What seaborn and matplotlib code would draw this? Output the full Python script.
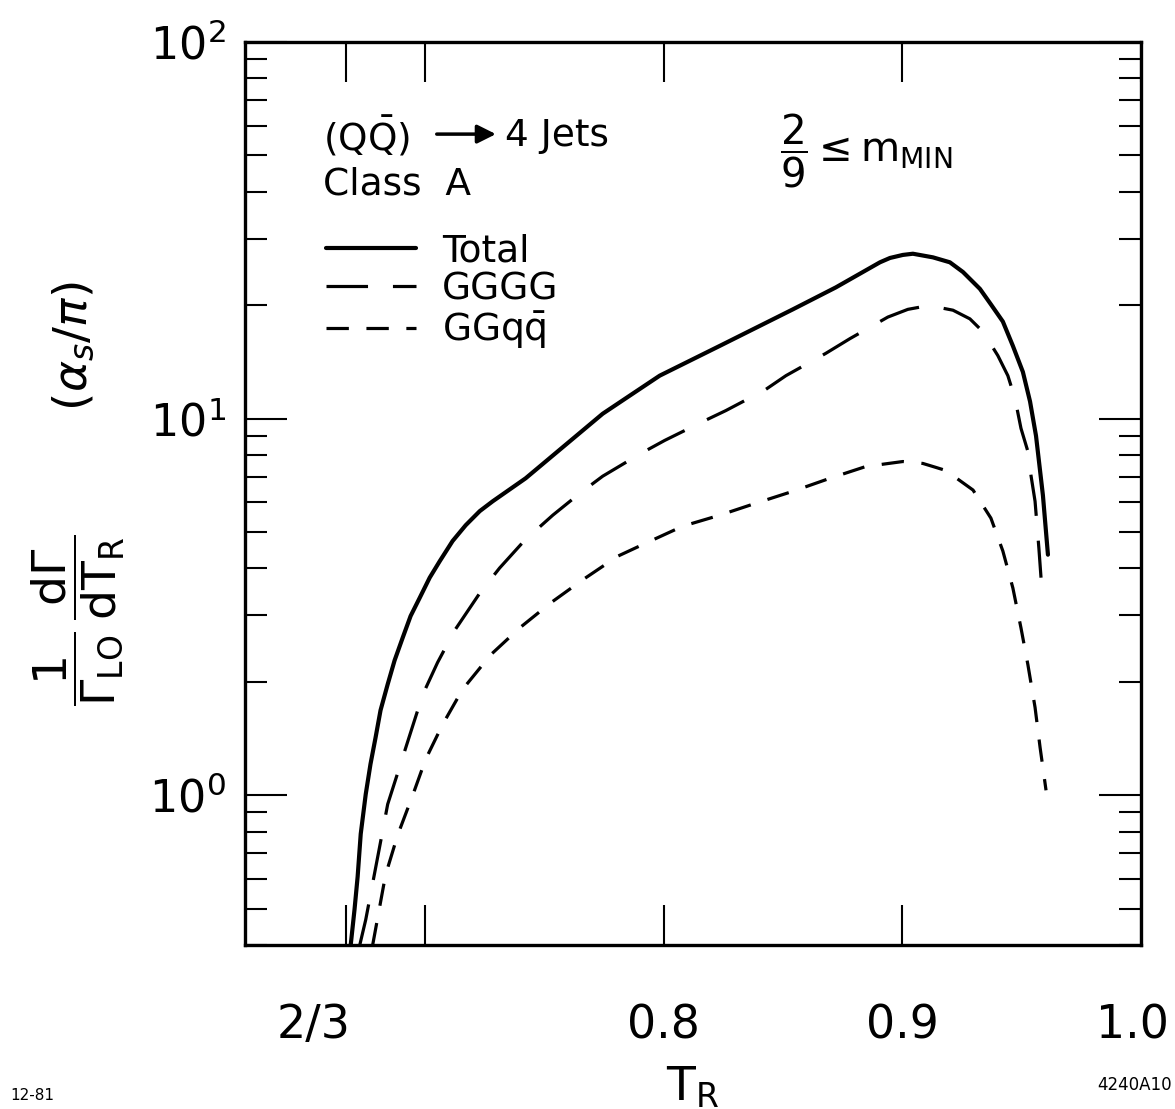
import numpy as np
import pandas as pd
import matplotlib
matplotlib.use("Agg")
import matplotlib.pyplot as plt
import seaborn as sns
from matplotlib.lines import Line2D

# ---- data ----
t_total = [0.6688, 0.6704, 0.6717, 0.6730, 0.6751, 0.6771, 0.6792, 0.6813, 0.6843,
           0.6872, 0.6906, 0.6939, 0.6977, 0.7019, 0.7061, 0.7115, 0.7170, 0.7229,
           0.7283, 0.7421, 0.7744, 0.7857, 0.7983, 0.8235, 0.8541, 0.8721, 0.8906,
           0.8948, 0.9002, 0.9044, 0.9128, 0.9199, 0.9254, 0.9325, 0.9371, 0.9421,
           0.9463, 0.9505, 0.9535, 0.9560, 0.9589, 0.9610]
v_total = [0.40, 0.497, 0.607, 0.789, 1.006, 1.21, 1.42, 1.68, 1.97,
           2.28, 2.62, 2.99, 3.34, 3.78, 4.18, 4.73, 5.21, 5.68,
           6.03, 6.94, 10.3, 11.5, 13.0, 15.6, 19.5, 22.3, 26.0,
           26.7, 27.2, 27.4, 26.8, 26.0, 24.5, 22.1, 20.1, 18.1,
           15.6, 13.3, 11.1, 9.0, 6.25, 4.35]

t_gggg = [0.6726, 0.6751, 0.6809, 0.6843, 0.6897, 0.6935, 0.6990, 0.7052, 0.7124,
          0.7229, 0.7312, 0.7417, 0.7535, 0.7648, 0.7744, 0.7904, 0.8004, 0.8164,
          0.8260, 0.8423, 0.8512, 0.8679, 0.8780, 0.8939, 0.9023, 0.9099, 0.9140,
          0.9212, 0.9283, 0.9338, 0.9400, 0.9442, 0.9472, 0.9497, 0.9526, 0.9539,
          0.9556, 0.9572, 0.9581]
v_gggg = [0.40, 0.467, 0.728, 0.946, 1.21, 1.44, 1.85, 2.25, 2.74,
          3.44, 4.01, 4.75, 5.54, 6.33, 7.03, 8.08, 8.75, 9.82,
          10.5, 11.9, 13.0, 14.9, 16.3, 18.6, 19.5, 19.9, 19.8,
          19.4, 18.4, 17.0, 14.7, 13.0, 11.3, 9.42, 8.18, 7.06,
          6.03, 4.53, 3.78]

t_ggqq = [0.6780, 0.6788, 0.6834, 0.6885, 0.6948, 0.7002, 0.7073, 0.7157, 0.7275,
          0.7396, 0.7526, 0.7660, 0.7807, 0.7925, 0.8080, 0.8235, 0.8386, 0.8541,
          0.8696, 0.8847, 0.9002, 0.9086, 0.9140, 0.9182, 0.9296, 0.9371, 0.9421,
          0.9463, 0.9497, 0.9526, 0.9556, 0.9577, 0.9602]
v_ggqq = [0.40, 0.426, 0.614, 0.784, 1.0, 1.245, 1.54, 1.91, 2.36,
          2.78, 3.24, 3.73, 4.31, 4.67, 5.18, 5.54, 5.96, 6.41,
          6.94, 7.46, 7.69, 7.60, 7.42, 7.28, 6.46, 5.44, 4.45,
          3.55, 2.78, 2.22, 1.71, 1.34, 1.03]

series_names = ["Total", "GGGG", r"GGq$\bar{\mathrm{q}}$"]
x_ticks = [2/3, 0.7, 0.8, 0.9, 1.0]
x_ticklabels = ["", "", "0.8", "0.9", ""]

# ---- style ----
sns.set_theme(style="ticks")
plt.rcParams["font.family"] = ["DejaVu Sans"]
plt.rcParams["mathtext.fontset"] = "dejavusans"
for k in ["text.color", "axes.labelcolor", "xtick.color", "ytick.color", "axes.edgecolor"]:
    plt.rcParams[k] = "black"

fig = plt.figure(figsize=(11.75, 11.09), dpi=100)
ax = fig.add_axes([245/1175, 1-945/1109, 896/1175, 903/1109])

styles = [
    dict(lw=3.0, linestyle="-"),
    dict(lw=2.3, linestyle=(0, (13, 7.8))),
    dict(lw=2.3, linestyle=(0, (7, 5.5))),
]
data = [(t_total, v_total), (t_gggg, v_gggg), (t_ggqq, v_ggqq)]
for (tx, vy), st in zip(data, styles):
    df = pd.DataFrame({"T": tx, "v": vy})
    sns.lineplot(data=df, x="T", y="v", ax=ax, color="black", sort=False,
                 estimator=None, solid_capstyle="round", solid_joinstyle="round",
                 dash_capstyle="butt", dash_joinstyle="round", **st)

ax.set_yscale("log")
ax.set_ylim(0.4, 100)
ax.set_xlim(0.6245, 1.0)
ax.set_xticks(x_ticks)
ax.set_xticklabels(x_ticklabels)
XPAD = 42
ax.tick_params(axis="x", which="major", direction="in", length=29, width=1.5,
               top=True, bottom=True, labelsize=33, pad=XPAD)
ax.tick_params(axis="x", which="minor", bottom=False, top=False)
ax.tick_params(axis="y", which="major", direction="in", length=30, width=1.5,
               left=True, right=True, labelsize=32, pad=14)
ax.tick_params(axis="y", which="minor", direction="in", length=16, width=1.5,
               left=True, right=True)
ax.yaxis.set_minor_formatter(matplotlib.ticker.NullFormatter())
for sp in ax.spines.values():
    sp.set_linewidth(2.4)
    sp.set_visible(True)
    sp.set_color("black")
ax.grid(False)

# "2/3" and "1.0" labels placed as in the original
xt = ax.get_xaxis_transform()
ax.annotate("2/3", xy=(2/3 - 0.0135, 0), xycoords=xt, xytext=(0, -XPAD),
            textcoords="offset points", ha="center", va="top", fontsize=33)
ax.annotate("1.0", xy=(1.0 - 0.0035, 0), xycoords=xt, xytext=(0, -XPAD),
            textcoords="offset points", ha="center", va="top", fontsize=33,
            annotation_clip=False)

ax.set_xlabel(r"$\mathrm{T_R}$", fontsize=34, labelpad=12)
ax.set_ylabel(r"$\dfrac{1}{\Gamma_{\mathrm{LO}}}\,\dfrac{\mathrm{d}\Gamma}{\mathrm{d}\mathrm{T}_{\mathrm{R}}}$"
              r"        $(\alpha_s/\pi)$", fontsize=34, labelpad=16)

# annotations
ax.text(0.087, 0.896, r"(Q$\bar{\mathrm{Q}}$)", transform=ax.transAxes,
        fontsize=27, ha="left", va="center")
ax.annotate("", xy=(0.280, 0.898), xytext=(0.214, 0.898), xycoords="axes fraction",
            arrowprops=dict(arrowstyle="-|>", lw=2.5, color="black", mutation_scale=28,
                            shrinkA=0, shrinkB=0))
ax.text(0.290, 0.896, "4 Jets", transform=ax.transAxes,
        fontsize=27, ha="left", va="center")
ax.text(0.087, 0.842, "Class  A", transform=ax.transAxes,
        fontsize=27, ha="left", va="center")
ax.text(0.597, 0.880, r"$\dfrac{2}{9}\leq \mathrm{m}_{\mathrm{MIN}}$", transform=ax.transAxes,
        fontsize=29, ha="left", va="center")

handles = [Line2D([], [], color="black", **st) for st in styles]
ax.legend(handles, series_names, loc="upper left", bbox_to_anchor=(0.090, 0.788),
          frameon=False, fontsize=27, handlelength=2.4, handletextpad=0.7,
          labelspacing=0.05, borderpad=0, borderaxespad=0)

fig.text(0.009, 0.012, "12-81", fontsize=11, ha="left", va="center")
fig.text(0.997, 0.022, "4240A10", fontsize=12, ha="right", va="center")

fig.savefig("out.png", dpi=100)
